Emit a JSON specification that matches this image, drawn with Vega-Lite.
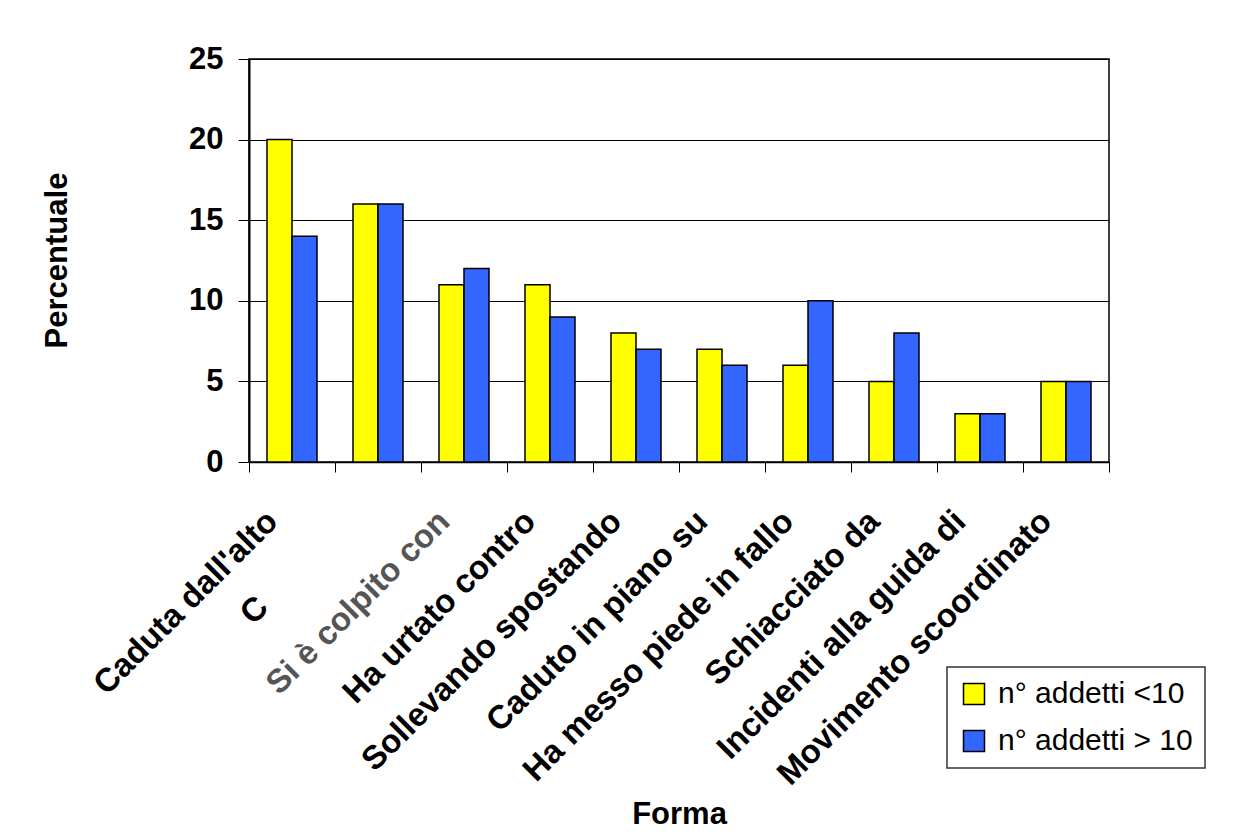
{
  "$schema": "https://vega.github.io/schema/vega-lite/v6.json",
  "autosize": "none",
  "width": 860,
  "height": 403,
  "padding": {"left": 249, "top": 59, "right": 141, "bottom": 375},
  "background": "white",
  "data": {
    "values": [
      {"forma": "Caduta dall'alto", "serie": "n° addetti <10", "perc": 20},
      {"forma": "Caduta dall'alto", "serie": "n° addetti > 10", "perc": 14},
      {"forma": "C", "serie": "n° addetti <10", "perc": 16},
      {"forma": "C", "serie": "n° addetti > 10", "perc": 16},
      {"forma": "Si è colpito con", "serie": "n° addetti <10", "perc": 11},
      {"forma": "Si è colpito con", "serie": "n° addetti > 10", "perc": 12},
      {"forma": "Ha urtato contro", "serie": "n° addetti <10", "perc": 11},
      {"forma": "Ha urtato contro", "serie": "n° addetti > 10", "perc": 9},
      {"forma": "Sollevando spostando", "serie": "n° addetti <10", "perc": 8},
      {"forma": "Sollevando spostando", "serie": "n° addetti > 10", "perc": 7},
      {"forma": "Caduto in piano su", "serie": "n° addetti <10", "perc": 7},
      {"forma": "Caduto in piano su", "serie": "n° addetti > 10", "perc": 6},
      {"forma": "Ha messo piede in fallo", "serie": "n° addetti <10", "perc": 6},
      {"forma": "Ha messo piede in fallo", "serie": "n° addetti > 10", "perc": 10},
      {"forma": "Schiacciato da", "serie": "n° addetti <10", "perc": 5},
      {"forma": "Schiacciato da", "serie": "n° addetti > 10", "perc": 8},
      {"forma": "Incidenti alla guida di", "serie": "n° addetti <10", "perc": 3},
      {"forma": "Incidenti alla guida di", "serie": "n° addetti > 10", "perc": 3},
      {"forma": "Movimento scoordinato", "serie": "n° addetti <10", "perc": 5},
      {"forma": "Movimento scoordinato", "serie": "n° addetti > 10", "perc": 5}
    ]
  },
  "mark": {"type": "bar", "stroke": "black", "strokeWidth": 1.5},
  "encoding": {
    "x": {
      "field": "forma",
      "type": "nominal",
      "sort": null,
      "scale": {"paddingInner": 0, "paddingOuter": 0},
      "axis": {
        "title": "Forma",
        "titleFont": "Liberation Sans",
        "titleFontSize": 31,
        "titleFontWeight": "bold",
        "titleColor": "black",
        "titleX": 430,
        "titleY": 352,
        "titleBaseline": "middle",
        "tickBand": "extent",
        "tickSize": 10,
        "tickColor": "black",
        "domainColor": "black",
        "domainWidth": 1.5,
        "labelAngle": -45,
        "labelAlign": {"condition": {"test": "datum.label == 'C'", "value": "center"}, "value": "right"},
        "labelBaseline": "middle",
        "labelFont": "Liberation Sans",
        "labelFontSize": 33,
        "labelFontWeight": "bold",
        "labelColor": {"condition": {"test": "datum.label == 'Si è colpito con'", "value": "#555555"}, "value": "black"},
        "labelLimit": 600,
        "labelPadding": {"condition": {"test": "datum.label == 'C'", "value": 138}, "value": 44},
        "labelOffset": {"condition": {"test": "datum.label == 'C'", "value": -124}, "value": -20},
        "labelOverlap": false
      }
    },
    "xOffset": {
      "field": "serie",
      "type": "nominal",
      "sort": ["n° addetti <10", "n° addetti > 10"],
      "scale": {"paddingInner": 0, "paddingOuter": 0.72}
    },
    "y": {
      "field": "perc",
      "type": "quantitative",
      "scale": {"domain": [0, 25], "nice": false},
      "axis": {
        "title": "Percentuale",
        "titleFont": "Liberation Sans",
        "titleFontSize": 31,
        "titleFontWeight": "bold",
        "titleColor": "black",
        "titleAngle": -90,
        "titleX": -192,
        "titleY": 201,
        "titleAlign": "center",
        "titleBaseline": "middle",
        "values": [0, 5, 10, 15, 20, 25],
        "grid": true,
        "gridColor": "black",
        "gridWidth": 1,
        "gridOpacity": 1,
        "tickSize": 11,
        "tickColor": "black",
        "domainColor": "black",
        "domainWidth": 2,
        "labelFont": "Liberation Sans",
        "labelFontSize": 31,
        "labelFontWeight": "bold",
        "labelColor": "black",
        "labelPadding": 15
      }
    },
    "color": {
      "field": "serie",
      "type": "nominal",
      "scale": {
        "domain": ["n° addetti <10", "n° addetti > 10"],
        "range": ["#FFFF00", "#3366FF"]
      },
      "legend": {
        "title": null,
        "orient": "none",
        "legendX": 698,
        "legendY": 608,
        "symbolType": "square",
        "symbolSize": 441,
        "symbolStrokeColor": "black",
        "symbolStrokeWidth": 1.5,
        "symbolOpacity": 1,
        "labelFont": "Liberation Sans",
        "labelFontSize": 30,
        "labelColor": "black",
        "labelOffset": 9,
        "labelLimit": 400,
        "rowPadding": 17,
        "padding": 12,
        "strokeColor": "#333333",
        "fillColor": "white",
        "encode": {"legend": {"update": {"strokeWidth": {"value": 1.5}}}}
      }
    }
  },
  "config": {
    "view": {"stroke": "black", "strokeWidth": 1.5}
  }
}
